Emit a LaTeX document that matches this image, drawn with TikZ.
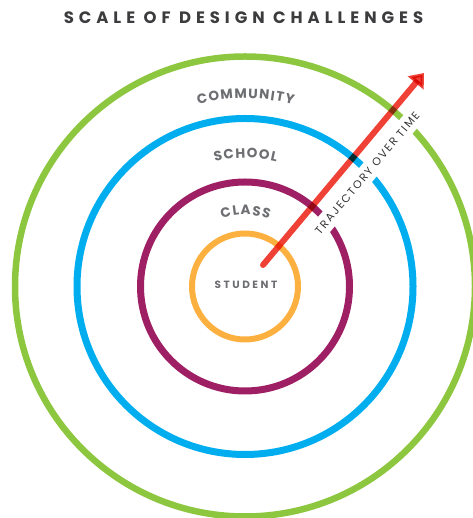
\documentclass[tikz,border=0pt]{standalone}
\usepackage{fontspec}
\usetikzlibrary{decorations.text,arrows.meta,calc}
\newfontfamily\titlefont[LetterSpace=30]{Poppins}
\newfontfamily\ringfont{Poppins}
\newfontfamily\studentfont[LetterSpace=24]{Poppins}
\newfontfamily\trajfont[LetterSpace=16]{Poppins}
\definecolor{cgreen}{HTML}{8DC63F}
\definecolor{cblue}{HTML}{00AEEF}
\definecolor{cpurple}{HTML}{9E1F63}
\definecolor{corange}{HTML}{FBB040}
\definecolor{cred}{HTML}{EF4136}
\definecolor{titlegray}{HTML}{3C3C3E}
\definecolor{labelgray}{HTML}{6D6E71}
\definecolor{trajgray}{HTML}{333333}
\tikzset{
  ring/.style={circle, inner sep=0pt, outer sep=0pt},
  arclabel/.style={decorate, decoration={text along path, text align=center, text={|\ringfont\bfseries\fontsize{13.5}{14}\selectfont\color{labelgray}\kern1.2pt|#1}}},
  trajarrow/.style={draw=cred, line width=6pt, line cap=round, blend mode=multiply, -{Triangle[length=13pt,width=20pt]}},
}
\begin{document}
\begin{tikzpicture}[x=1pt,y=1pt]
\useasboundingbox (0,0) rectangle (472,518);
\coordinate (C) at (245,231.5);
% rings
\node[ring, draw=cgreen, line width=6.5pt, minimum size=460pt] (community) at (C) {};
\node[ring, draw=cblue, line width=7pt, minimum size=336pt] (school) at (C) {};
\node[ring, draw=cpurple, line width=7pt, minimum size=209pt] (class) at (C) {};
\node[ring, draw=corange, line width=6pt, minimum size=106pt] (student) at (C) {};
% curved labels
\path[arclabel=COMMUNITY] ($(C)+(135:188)$) arc[start angle=135, end angle=45, radius=188];
\path[arclabel=SCHOOL] ($(C)+(140:128.5)$) arc[start angle=140, end angle=40, radius=128.5];
\path[arclabel=CLASS] ($(C)+(160:71.5)$) arc[start angle=160, end angle=20, radius=71.5];
\node[anchor=base, inner sep=0pt, text=labelgray, font=\studentfont\bfseries\fontsize{10.5}{12}\selectfont] (studentlabel) at (246,229.7) {STUDENT};
% title
\node[anchor=base, inner sep=0pt, text=titlegray, font=\titlefont\bfseries\fontsize{16.5}{18}\selectfont] (title) at (243.5,494.7) {SCALE OF DESIGN CHALLENGES};
% trajectory label
\node[fill=white, rotate=50, inner xsep=4pt, inner ysep=5.5pt, text=trajgray, font=\trajfont\fontsize{11}{12}\selectfont] (trajlabel) at (367.2,345) {TRAJECTORY OVER TIME};
% arrow
\coordinate (tail) at (263,253);
\coordinate (tip) at (424,445);
\draw[trajarrow] (tail) -- (tip);
\end{tikzpicture}
\end{document}
